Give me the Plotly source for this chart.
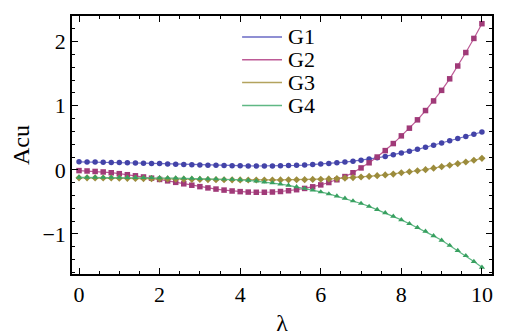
import plotly.graph_objects as go

# lambda values (sampled every 0.2)
lam = [round(i * 0.2, 1) for i in range(51)]

g1 = [0.125, 0.124, 0.122, 0.119, 0.116, 0.113, 0.110, 0.107, 0.104, 0.100,
      0.097, 0.093, 0.089, 0.085, 0.081, 0.077, 0.073, 0.070, 0.067, 0.064,
      0.062, 0.061, 0.060, 0.060, 0.061, 0.063, 0.066, 0.070, 0.075, 0.082,
      0.090, 0.099, 0.109, 0.121, 0.135, 0.150, 0.168, 0.188, 0.210, 0.235,
      0.262, 0.290, 0.320, 0.352, 0.385, 0.420, 0.453, 0.487, 0.521, 0.556,
      0.590]

g2 = [-0.012, -0.018, -0.025, -0.033, -0.045, -0.060, -0.076, -0.093, -0.111, -0.130,
      -0.150, -0.172, -0.195, -0.218, -0.240, -0.262, -0.282, -0.300, -0.316, -0.330,
      -0.340, -0.347, -0.350, -0.350, -0.346, -0.338, -0.326, -0.310, -0.290, -0.265,
      -0.235, -0.198, -0.155, -0.105, -0.045, 0.030, 0.110, 0.200, 0.300, 0.410,
      0.530, 0.650, 0.780, 0.925, 1.075, 1.240, 1.420, 1.620, 1.830, 2.050,
      2.280]

g3 = [-0.125, -0.125, -0.126, -0.127, -0.128, -0.130, -0.132, -0.134, -0.136, -0.138,
      -0.140, -0.142, -0.144, -0.146, -0.148, -0.150, -0.152, -0.153, -0.155, -0.156,
      -0.157, -0.158, -0.158, -0.158, -0.158, -0.157, -0.156, -0.155, -0.153, -0.150,
      -0.147, -0.142, -0.136, -0.129, -0.121, -0.112, -0.102, -0.091, -0.079, -0.066,
      -0.045, -0.030, -0.014, 0.003, 0.026, 0.050, 0.072, 0.096, 0.122, 0.150,
      0.180]

g4 = [-0.117, -0.117, -0.117, -0.118, -0.118, -0.119, -0.120, -0.121, -0.122, -0.123,
      -0.125, -0.127, -0.129, -0.131, -0.133, -0.136, -0.139, -0.142, -0.146, -0.150,
      -0.155, -0.163, -0.175, -0.190, -0.205, -0.222, -0.242, -0.265, -0.290, -0.317,
      -0.345, -0.375, -0.410, -0.445, -0.485, -0.525, -0.570, -0.620, -0.670, -0.725,
      -0.780, -0.840, -0.900, -0.960, -1.030, -1.100, -1.180, -1.260, -1.340, -1.430,
      -1.520]

names = ["G1", "G2", "G3", "G4"]
series = [g1, g2, g3, g4]
line_colors = ["#6a6ac4", "#bd5a96", "#b3a35e", "#5fb884"]
marker_colors = ["#4343a8", "#a03a78", "#9c8c3c", "#38a060"]
symbols = ["circle", "square", "diamond", "triangle-up"]

serif = "Liberation Serif, Times New Roman, serif"

fig = go.Figure()
for name, ys, lc, mc, sym in zip(names, series, line_colors, marker_colors, symbols):
    fig.add_trace(go.Scatter(
        x=lam, y=ys, name=name, mode="lines+markers", showlegend=False,
        line=dict(color=lc, width=1.2),
        marker=dict(color=mc, symbol=sym, size=5.5),
    ))

# legend drawn by hand: short line samples + labels, like the Mathematica one
leg_top = 0.919
leg_step = 0.0885
for i, (name, lc) in enumerate(zip(names, line_colors)):
    yy = leg_top - i * leg_step
    fig.add_shape(type="line", xref="paper", yref="paper",
                  x0=0.405, x1=0.50, y0=yy, y1=yy,
                  line=dict(color=lc, width=1.5))
    fig.add_annotation(xref="paper", yref="paper", x=0.51, y=yy,
                       xanchor="left", yanchor="middle", showarrow=False,
                       text=name, font=dict(family=serif, size=22, color="black"))

axis_common = dict(
    showline=True, linecolor="black", linewidth=1.5, mirror="allticks",
    ticks="inside", ticklen=6, tickwidth=1, tickcolor="black",
    showgrid=False, zeroline=False,
    tickfont=dict(family=serif, size=22, color="black"),
)

fig.update_xaxes(
    range=[-0.174, 10.25], dtick=2, tick0=0,
    minor=dict(dtick=0.5, ticks="inside", ticklen=3, tickcolor="black"),
    title=dict(text="λ", font=dict(family=serif, size=24, color="black"), standoff=8),
    **axis_common,
)
fig.update_yaxes(
    range=[-1.625, 2.40], dtick=1, tick0=0,
    minor=dict(dtick=0.2, ticks="inside", ticklen=3, tickcolor="black"),
    title=dict(text="Acu", font=dict(family=serif, size=24, color="black"), standoff=6),
    **axis_common,
)

# the page has an 8px body margin, so the plot is shifted up/left by 8px
fig.update_layout(
    width=519, height=336,
    margin=dict(l=64, r=35, t=6, b=70),
    plot_bgcolor="white", paper_bgcolor="white",
)

fig.write_html("out.html")
